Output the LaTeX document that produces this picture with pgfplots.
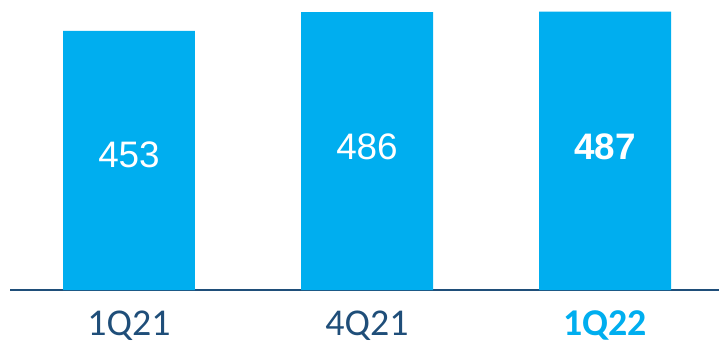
\documentclass[border=0pt]{standalone}
\usepackage{pgfplots}
\pgfplotsset{compat=1.18}
\usepackage{fontspec}
\setmainfont{Liberation Sans}
\newfontfamily\carlito{Carlito}
\definecolor{barblue}{HTML}{00AEEF}
\definecolor{axisblue}{HTML}{1F4E79}
\begin{document}
\begin{tikzpicture}
\useasboundingbox (-10bp,-51bp) rectangle (709bp,290bp);
\begin{axis}[
  scale only axis, width=709bp, height=290bp,
  xmin=-0.5, xmax=2.479, ymin=0, ymax=507.2,
  axis y line=none, axis x line*=bottom,
  x axis line style={-, draw=axisblue, line width=1.5bp},
  xtick={0,1,2}, major tick length=0pt,
  xticklabels={\textcolor{axisblue}{1Q21},\textcolor{axisblue}{4Q21},\textcolor{barblue}{\bfseries 1Q22}},
  xticklabel style={font=\carlito\fontsize{38}{38}\selectfont, anchor=base, yshift=-45bp, inner sep=0pt},
  clip=false,
]
\addplot[ybar, bar width=0.5546, fill=barblue, draw=none] coordinates {(0,453) (1,486) (2,487)};
\addplot[only marks, mark=none, nodes near coords, point meta=explicit symbolic,
  every node near coord/.style={anchor=center, text=white, font=\fontsize{37}{37}\selectfont}]
  coordinates {(0,236)[453] (1,250)[486] (2,250)[\bfseries 487]};
\end{axis}
\end{tikzpicture}
\end{document}
